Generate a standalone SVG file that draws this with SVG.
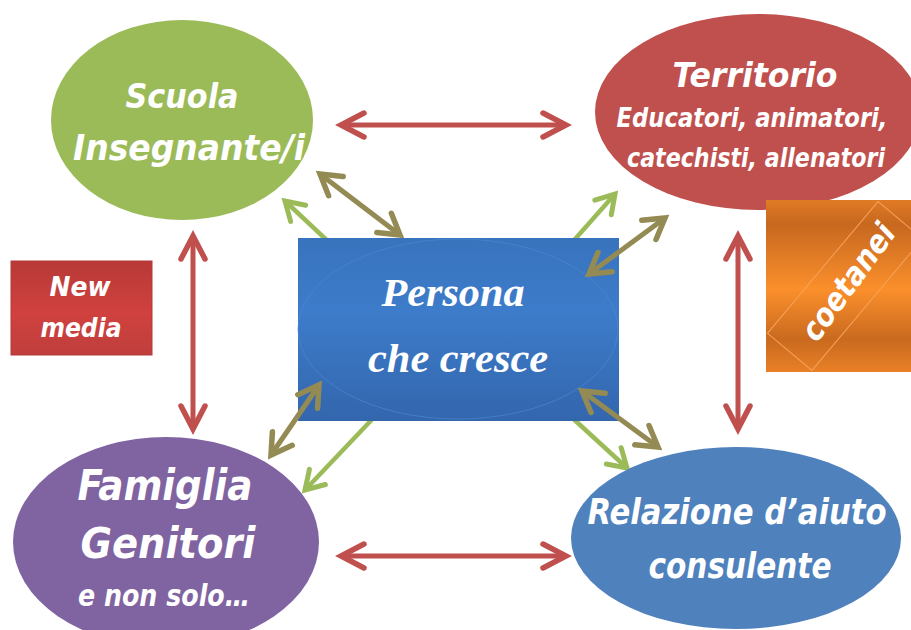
<svg xmlns="http://www.w3.org/2000/svg" width="911" height="630" viewBox="0 0 911 630">
<defs>
<linearGradient id="gCenter" x1="0" y1="0" x2="0" y2="1">
<stop offset="0" stop-color="#3873bd"/><stop offset="0.4" stop-color="#3d7cca"/><stop offset="1" stop-color="#3366ad"/>
</linearGradient>
<linearGradient id="gOrange" x1="0" y1="0" x2="0" y2="1">
<stop offset="0" stop-color="#e07a25"/><stop offset="0.14" stop-color="#c7681f"/><stop offset="0.52" stop-color="#fb8f2b"/><stop offset="0.81" stop-color="#c96a1f"/><stop offset="1" stop-color="#e88027"/>
</linearGradient>
<linearGradient id="gRed" x1="0" y1="0" x2="0" y2="1">
<stop offset="0" stop-color="#b73936"/><stop offset="0.55" stop-color="#d0413f"/><stop offset="1" stop-color="#bf3f3c"/>
</linearGradient>
<marker id="mRed" markerUnits="userSpaceOnUse" markerWidth="60" markerHeight="60" refX="0" refY="0" orient="auto-start-reverse" overflow="visible">
<path d="M-23,-12 L0,0 L-23,12" fill="none" stroke="#c0504d" stroke-width="5.5" stroke-linecap="round" stroke-linejoin="miter"/>
</marker>
<marker id="mGreen" markerUnits="userSpaceOnUse" markerWidth="60" markerHeight="60" refX="0" refY="0" orient="auto-start-reverse" overflow="visible">
<path d="M-18,-11 L0,0 L-18,11" fill="none" stroke="#9bbb59" stroke-width="5" stroke-linecap="round"/>
</marker>
<marker id="mOlive" markerUnits="userSpaceOnUse" markerWidth="60" markerHeight="60" refX="0" refY="0" orient="auto-start-reverse" overflow="visible">
<path d="M-20,-12 L0,0 L-20,12" fill="none" stroke="#948a54" stroke-width="5.5" stroke-linecap="round"/>
</marker>
</defs>
<style>
.brush{font-family:"DejaVu Sans","Liberation Sans",sans-serif;font-weight:bold;font-style:italic;font-stretch:condensed;fill:#fff;text-anchor:middle}
.serif{font-family:"Liberation Serif","DejaVu Serif",serif;font-weight:bold;font-style:italic;fill:#fff;text-anchor:middle}
.red{stroke:#c0504d;stroke-width:5;fill:none}
.green{stroke:#9bbb59;stroke-width:4.5;fill:none}
.olive{stroke:#948a54;stroke-width:5;fill:none}
</style>
<rect width="911" height="630" fill="#fff"/>

<g id="connectors-green">
<line class="green" x1="380" y1="290" x2="285" y2="201" marker-end="url(#mGreen)"/>
<line class="green" x1="530" y1="290" x2="615" y2="194" marker-end="url(#mGreen)"/>
<line class="green" x1="400" y1="390" x2="305" y2="490" marker-end="url(#mGreen)"/>
<line class="green" x1="520" y1="370" x2="627" y2="468" marker-end="url(#mGreen)"/>
</g>

<g id="node-center">
<rect x="298" y="238" width="321" height="183" fill="url(#gCenter)"/>
<ellipse cx="458" cy="329" rx="160" ry="90" fill="none" stroke="#4a88d0" stroke-width="1" opacity="0.7"/>
<text class="serif" x="453" y="306" font-size="40" textLength="143" lengthAdjust="spacingAndGlyphs">Persona</text>
<text class="serif" x="458" y="372" font-size="40" textLength="180" lengthAdjust="spacingAndGlyphs">che cresce</text>
</g>

<g id="node-scuola">
<ellipse cx="182" cy="120" rx="131" ry="100" fill="#9bbb59"/>
<text class="brush" x="182" y="108" font-size="34" textLength="113" lengthAdjust="spacingAndGlyphs">Scuola</text>
<text class="brush" x="189" y="160" font-size="36" textLength="232" lengthAdjust="spacingAndGlyphs">Insegnante/i</text>
</g>

<g id="node-territorio">
<ellipse cx="758" cy="112" rx="163" ry="98" fill="#c0504d"/>
<text class="brush" x="755" y="87" font-size="34" textLength="165" lengthAdjust="spacingAndGlyphs">Territorio</text>
<text class="brush" x="752" y="127" font-size="26" textLength="271" lengthAdjust="spacingAndGlyphs">Educatori, animatori,</text>
<text class="brush" x="756" y="167" font-size="26" textLength="258" lengthAdjust="spacingAndGlyphs">catechisti, allenatori</text>
</g>

<g id="node-famiglia">
<ellipse cx="166" cy="542" rx="153" ry="105" fill="#8064a2"/>
<text class="brush" x="165" y="500" font-size="42" textLength="175" lengthAdjust="spacingAndGlyphs">Famiglia</text>
<text class="brush" x="168" y="558" font-size="42" textLength="175" lengthAdjust="spacingAndGlyphs">Genitori</text>
<text class="brush" x="164" y="606" font-size="30" textLength="172" lengthAdjust="spacingAndGlyphs">e non solo…</text>
</g>

<g id="node-relazione">
<ellipse cx="736" cy="538" rx="165" ry="91" fill="#4f81bd"/>
<text class="brush" x="737" y="524" font-size="36" textLength="299" lengthAdjust="spacingAndGlyphs">Relazione d’aiuto</text>
<text class="brush" x="740" y="578" font-size="36" textLength="183" lengthAdjust="spacingAndGlyphs">consulente</text>
</g>

<g id="node-newmedia">
<rect x="11" y="261" width="141" height="94" fill="url(#gRed)" stroke="#b53a37" stroke-width="1"/>
<text class="brush" x="80" y="296" font-size="26" textLength="61" lengthAdjust="spacingAndGlyphs" font-weight="normal">New</text>
<text class="brush" x="81" y="337" font-size="26" textLength="81" lengthAdjust="spacingAndGlyphs" font-weight="normal">media</text>
</g>

<g id="node-coetanei">
<rect x="766" y="200" width="145" height="172" fill="url(#gOrange)"/>
<g clip-path="inset(0)">
<rect x="759" y="257" width="172" height="58" fill="none" stroke="#f7a25a" stroke-width="1" transform="rotate(-50 845 286)"/>
</g>
<text class="brush" x="848" y="293" font-size="32" textLength="136" lengthAdjust="spacingAndGlyphs" font-weight="normal" transform="rotate(-54 848 282)">coetanei</text>
</g>

<g id="connectors">
<line class="red" x1="341" y1="125" x2="566" y2="125" marker-start="url(#mRed)" marker-end="url(#mRed)"/>
<line class="red" x1="341" y1="556" x2="566" y2="556" marker-start="url(#mRed)" marker-end="url(#mRed)"/>
<line class="red" x1="193" y1="236" x2="193" y2="429" marker-start="url(#mRed)" marker-end="url(#mRed)"/>
<line class="red" x1="738" y1="236" x2="738" y2="429" marker-start="url(#mRed)" marker-end="url(#mRed)"/>
<line class="olive" x1="320" y1="174" x2="400" y2="235" marker-start="url(#mOlive)" marker-end="url(#mOlive)"/>
<line class="olive" x1="665" y1="218" x2="589" y2="274" marker-start="url(#mOlive)" marker-end="url(#mOlive)"/>
<line class="olive" x1="319" y1="385" x2="271" y2="455" marker-start="url(#mOlive)" marker-end="url(#mOlive)"/>
<line class="olive" x1="582" y1="391" x2="658" y2="447" marker-start="url(#mOlive)" marker-end="url(#mOlive)"/>
</g>
</svg>
